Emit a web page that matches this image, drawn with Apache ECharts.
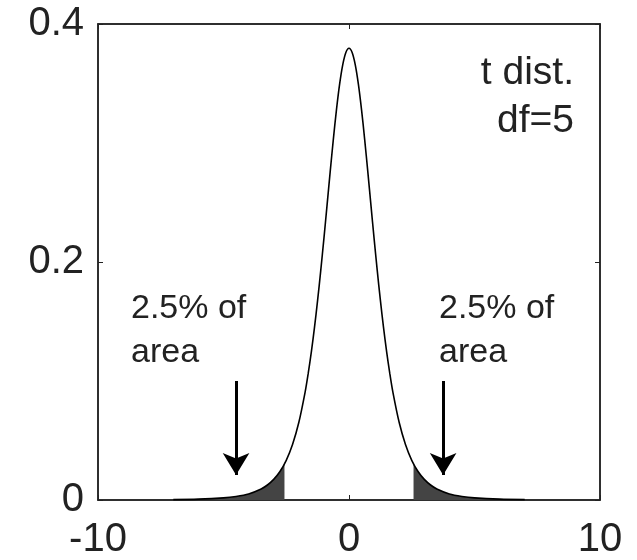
<!DOCTYPE html>
<html>
<head>
<meta charset="utf-8">
<script src="https://cdn.jsdelivr.net/npm/echarts@6/dist/echarts.min.js"></script>
<style>
  html, body { margin: 0; padding: 0; background: #fff; }
  #chart { width: 637px; height: 560px; }
</style>
</head>
<body>
<div id="chart"></div>
<script>
// t distribution, df = 5
var curveX = [-7, -6, -5, -4.5, -4, -3.5, -3.25, -3, -2.75, -2.5, -2.25, -2, -1.75, -1.625, -1.5, -1.375, -1.25, -1.125, -1, -0.875, -0.75, -0.625, -0.5, -0.375, -0.25, -0.125,
              0, 0.125, 0.25, 0.375, 0.5, 0.625, 0.75, 0.875, 1, 1.125, 1.25, 1.375, 1.5, 1.625, 1.75, 2, 2.25, 2.5, 2.75, 3, 3.25, 3.5, 4, 4.5, 5, 6, 7];
var curveY = [0.0003, 0.0007, 0.0018, 0.003, 0.0051, 0.0093, 0.0126, 0.0173, 0.0239, 0.0333, 0.0466, 0.0651, 0.0905, 0.1064, 0.1245, 0.145, 0.1679, 0.1929, 0.2197, 0.2476, 0.2757, 0.3029, 0.3279, 0.3493, 0.3657, 0.3761,
              0.3796, 0.3761, 0.3657, 0.3493, 0.3279, 0.3029, 0.2757, 0.2476, 0.2197, 0.1929, 0.1679, 0.145, 0.1245, 0.1064, 0.0905, 0.0651, 0.0466, 0.0333, 0.0239, 0.0173, 0.0126, 0.0093, 0.0051, 0.003, 0.0018, 0.0007, 0.0003];

// shaded 2.5% tails beyond +/- 2.571
var leftTailX = [-7, -6, -5, -4.5, -4, -3.5, -3.25, -3, -2.75, -2.571];
var leftTailY = [0.0003, 0.0007, 0.0018, 0.003, 0.0051, 0.0093, 0.0126, 0.0173, 0.0239, 0.0303];
var rightTailX = [2.571, 2.75, 3, 3.25, 3.5, 4, 4.5, 5, 6, 7];
var rightTailY = [0.0303, 0.0239, 0.0173, 0.0126, 0.0093, 0.0051, 0.003, 0.0018, 0.0007, 0.0003];

// arrows pointing to the tails
var arrowX = [-4.5, 3.75];
var arrowTop = 0.1;
var arrowTip = 0.021;

function pairs(xs, ys) {
  return xs.map(function (x, i) { return [x, ys[i]]; });
}

var font = '"Liberation Sans", Arial, sans-serif';
var ink = '#222';
var myChart = echarts.init(document.getElementById('chart'));

var axisLine = { show: true, onZero: false, lineStyle: { color: ink, width: 1.5 } };
var tick = { show: true, inside: true, length: 5, lineStyle: { color: ink, width: 1 } };

var option = {
  backgroundColor: '#fff',
  animation: false,
  grid: { left: 98, right: 37, top: 24, bottom: 58, show: true, borderColor: ink, borderWidth: 1.5, backgroundColor: 'transparent' },
  xAxis: [
    { type: 'value', min: -10, max: 10, interval: 10, axisLine: axisLine, axisTick: tick, splitLine: { show: false },
      axisLabel: { color: ink, fontSize: 40, fontFamily: font, margin: 20 } },
    { type: 'value', position: 'top', min: -10, max: 10, interval: 10, axisLine: axisLine, axisTick: tick,
      splitLine: { show: false }, axisLabel: { show: false } }
  ],
  yAxis: [
    { type: 'value', min: 0, max: 0.4, interval: 0.2, axisLine: axisLine, axisTick: tick, splitLine: { show: false },
      axisLabel: { color: ink, fontSize: 40, fontFamily: font, margin: 14,
        formatter: function (v) { return v === 0 ? '0' : v.toFixed(1); } } },
    { type: 'value', position: 'right', min: 0, max: 0.4, interval: 0.2, axisLine: axisLine, axisTick: tick,
      splitLine: { show: false }, axisLabel: { show: false } }
  ],
  series: [
    { type: 'line', data: pairs(leftTailX, leftTailY), symbol: 'none', smooth: 0.3,
      lineStyle: { width: 0 }, areaStyle: { color: '#444', opacity: 1 }, z: 2 },
    { type: 'line', data: pairs(rightTailX, rightTailY), symbol: 'none', smooth: 0.3,
      lineStyle: { width: 0 }, areaStyle: { color: '#444', opacity: 1 }, z: 2 },
    { type: 'line', data: pairs(curveX, curveY), symbol: 'none', smooth: 0.3,
      lineStyle: { color: '#000', width: 1.6 }, z: 3,
      markLine: {
        silent: true, symbol: ['none', 'arrow'], symbolSize: [20, 22], label: { show: false },
        lineStyle: { color: '#000', width: 3, type: 'solid' },
        data: arrowX.map(function (x) { return [{ coord: [x, arrowTop] }, { coord: [x, arrowTip] }]; })
      } }
  ],
  graphic: [
    { type: 'text', right: 63, top: 54, style: { text: 't dist.', fontSize: 39, fontFamily: font, fill: ink, align: 'right' } },
    { type: 'text', right: 63, top: 102, style: { text: 'df=5', fontSize: 39, fontFamily: font, fill: ink, align: 'right' } },
    { type: 'text', left: 131, top: 287, style: { text: '2.5% of\narea', fontSize: 34, lineHeight: 44, fontFamily: font, fill: ink } },
    { type: 'text', left: 439, top: 287, style: { text: '2.5% of\narea', fontSize: 34, lineHeight: 44, fontFamily: font, fill: ink } }
  ]
};
myChart.setOption(option);
</script>
</body>
</html>
